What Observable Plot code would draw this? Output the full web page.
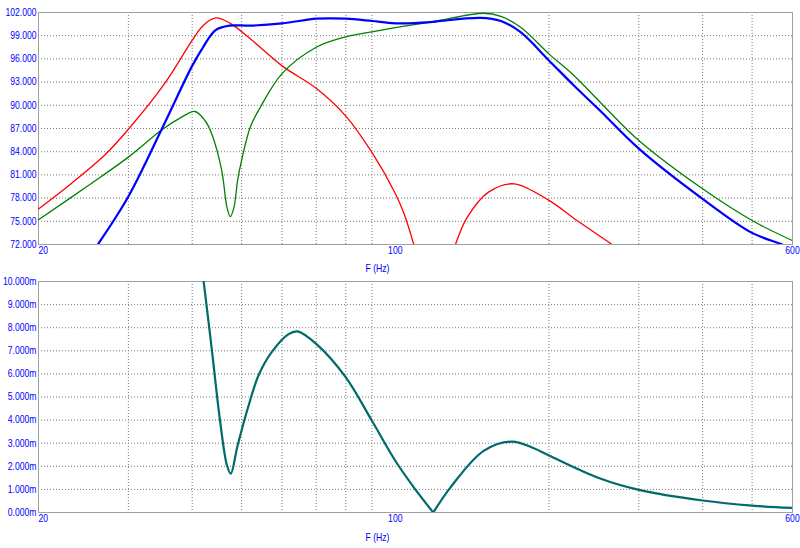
<!DOCTYPE html>
<html><head><meta charset="utf-8">
<script src="https://cdn.jsdelivr.net/npm/d3@7"></script>
<script src="https://cdn.jsdelivr.net/npm/@observablehq/plot@0.6"></script>
<style>
body{margin:0;background:#fff;}
#chart svg{display:block;}
</style></head><body><div id="chart"></div>
<script>
// Frequencies (Hz) and levels (dB)
const redLobe1F  = [20, 23.2, 27, 30, 35.4, 40, 42, 44.5, 47.5, 52, 60, 70, 80, 90, 100, 104, 108.7];
const redLobe1Db = [76.6, 79.9, 83.6, 86.9, 92.9, 98.4, 100.3, 101.3, 100.6, 98.6, 95.1, 92.2, 88.6, 83.9, 78.6, 76.0, 72.0];
const redLobe2F  = [131.2, 138.3, 152.5, 170.7, 200, 227, 266];
const redLobe2Db = [72.0, 75.5, 78.8, 79.85, 77.7, 75.1, 72.0];

const greenF  = [20, 25, 30, 35, 38, 40.5, 42.4, 43.7, 45.7, 46.8, 47.5, 48.3, 49.1, 50, 52, 54.4, 60, 70, 80, 90, 100, 117, 122.6, 149, 161, 176, 200, 223.8, 252, 300, 400, 500, 600];
const greenDb = [75.2, 79.6, 83.3, 86.9, 88.4, 89.2, 88.0, 86.3, 81.6, 76.8, 75.6, 76.8, 80.3, 82.9, 87.2, 89.75, 94.1, 97.5, 98.85, 99.5, 100.05, 100.75, 101.0, 101.9, 101.5, 100.1, 96.65, 93.85, 90.4, 85.45, 79.2, 75.1, 72.5];

const blueF  = [26.2, 30, 34.9, 40, 42.1, 44.4, 47.3, 52, 60, 70, 75, 80, 90, 100, 117, 122.6, 146.8, 161, 176, 200, 223.8, 252, 300, 400, 500, 572.6, 600];
const blueDb = [72.1, 78.2, 86.96, 95.1, 97.6, 99.7, 100.3, 100.3, 100.6, 101.2, 101.25, 101.2, 100.9, 100.6, 100.75, 100.9, 101.3, 100.9, 99.45, 95.8, 92.56, 89.3, 84.4, 77.9, 73.5, 72.0, 71.3];

// Lower panel (values in m-units); the null at 118.7 Hz is a cusp
const tealF = [42.1, 43.7, 45.4, 46.8, 47.6, 49.1, 51.6, 54, 57.3, 61.8, 64.3, 70, 80, 90, 100, 108.7, 118.7, 128.3, 149, 169.5, 186.8, 200, 252, 300, 400, 500, 600];
const tealM = [10.05, 7.07, 3.91, 2.04, 1.68, 2.9, 4.63, 5.95, 6.95, 7.72, 7.84, 7.3, 5.85, 3.97, 2.24, 1.09, 0.0, 1.09, 2.67, 3.07, 2.78, 2.47, 1.47, 0.98, 0.52, 0.30, 0.20];
const tealCuspF = 118.7;

// Ticks and grid
const xTickStart = [20];
const xTickOthers = [100, 600];
const xGrid = [30, 40, 50, 60, 70, 80, 90, 200, 300, 400, 500];
const topYTicks = [72, 75, 78, 81, 84, 87, 90, 93, 96, 99, 102];
const bottomYTicks = [0, 1, 2, 3, 4, 5, 6, 7, 8, 9, 10];
const xTitle = ["F (Hz)"];

const zip = (fs, vs) => fs.map((f, i) => ({f, v: vs[i]}));
const FONT = "'Liberation Sans', Arial, sans-serif";
const BLUE = "#0000ff";
const gridStyle = {stroke: "#7a7a7a", strokeWidth: 1, strokeDasharray: "1,2"};
const CURVE = "catmull-rom";

// split the teal curve at the cusp (shared point in both segments)
const tealAll = zip(tealF, tealM);
const tealData = [
  ...tealAll.filter(d => d.f <= tealCuspF).map(d => ({...d, seg: "a"})),
  ...tealAll.filter(d => d.f >= tealCuspF).map(d => ({...d, seg: "b"}))
];

function commonMarks(yTicks, fmt, titleDy) {
  return [
    Plot.ruleX(xGrid, gridStyle),
    Plot.ruleY(yTicks.slice(1, -1), gridStyle),
    Plot.frame({stroke: "#a0a0a0"}),
    Plot.axisY(yTicks, {tickSize: 0, tickPadding: 2, tickFormat: fmt, label: null, fill: BLUE}),
    Plot.axisX(xTickStart, {tickSize: 0, tickPadding: 2, textAnchor: "start", tickFormat: d => String(d), label: null, fill: BLUE}),
    Plot.axisX(xTickOthers, {tickSize: 0, tickPadding: 2, tickFormat: d => String(d), label: null, fill: BLUE}),
    Plot.text(xTitle, {frameAnchor: "bottom", dx: -38, dy: titleDy, fill: BLUE})
  ];
}

const topChart = Plot.plot({
  width: 800, height: 276,
  marginLeft: 38, marginRight: 8, marginTop: 12, marginBottom: 32,
  style: {fontFamily: FONT, fontSize: "10.5px", background: "#fff", overflow: "visible"},
  x: {type: "log", domain: [20, 600]},
  y: {domain: [72, 102]},
  marks: [
    ...commonMarks(topYTicks, d => d.toFixed(3), 27),
    Plot.line(zip(redLobe1F, redLobe1Db), {x: "f", y: "v", stroke: "#ff0000", strokeWidth: 1.3, curve: CURVE, clip: true}),
    Plot.line(zip(redLobe2F, redLobe2Db), {x: "f", y: "v", stroke: "#ff0000", strokeWidth: 1.3, curve: CURVE, clip: true}),
    Plot.line(zip(greenF, greenDb), {x: "f", y: "v", stroke: "#008000", strokeWidth: 1.3, curve: CURVE, clip: true}),
    Plot.line(zip(blueF, blueDb), {x: "f", y: "v", stroke: "#0000ff", strokeWidth: 2.2, curve: CURVE, clip: true})
  ]
});

const bottomChart = Plot.plot({
  width: 800, height: 272,
  marginLeft: 38, marginRight: 8, marginTop: 5, marginBottom: 36,
  style: {fontFamily: FONT, fontSize: "10.5px", background: "#fff", overflow: "visible"},
  x: {type: "log", domain: [20, 600]},
  y: {domain: [0, 10]},
  marks: [
    ...commonMarks(bottomYTicks, d => d.toFixed(3) + "m", 28),
    Plot.line(tealData, {x: "f", y: "v", z: "seg", stroke: "#006a6a", strokeWidth: 2.2, curve: CURVE, clip: true})
  ]
});

// Narrow the text horizontally to mimic the reference's condensed UI font
for (const svg of [topChart, bottomChart]) {
  svg.querySelectorAll("text").forEach(t => {
    const tr = t.getAttribute("transform");
    if (tr) {
      t.setAttribute("transform", tr + " scale(0.82,1)");
    } else {
      const x = parseFloat(t.getAttribute("x"));
      if (!isNaN(x)) {
        t.removeAttribute("x");
        t.setAttribute("transform", `translate(${x},0) scale(0.82,1)`);
      }
    }
  });
}

document.getElementById("chart").append(topChart, bottomChart);
</script>
</body></html>
